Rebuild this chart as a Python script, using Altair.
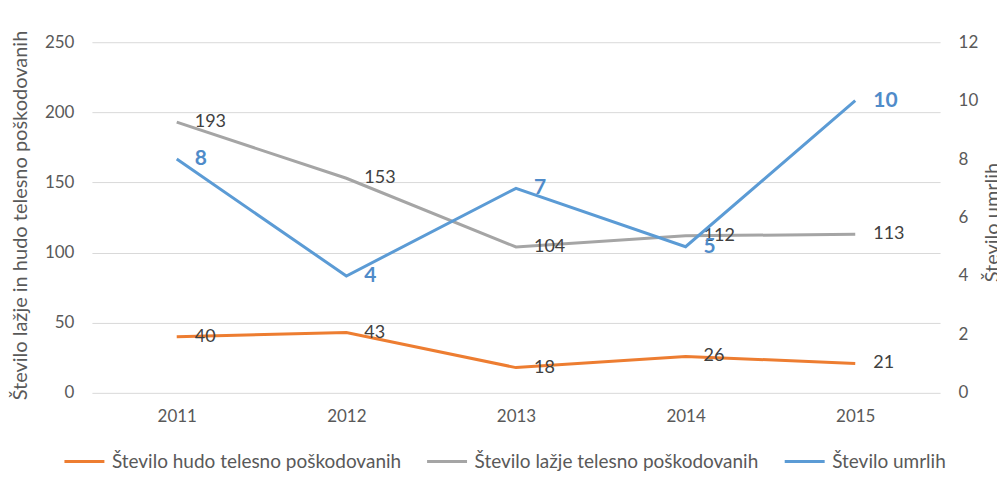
import altair as alt
import pandas as pd

years = ["2011", "2012", "2013", "2014", "2015"]
hudo = [40, 43, 18, 26, 21]
lazje = [193, 153, 104, 112, 113]
umrli = [8, 4, 7, 5, 10]

s_hudo = "Število hudo telesno poškodovanih"
s_lazje = "Število lažje telesno poškodovanih"
s_umrli = "Število umrlih"
series_names = [s_hudo, s_lazje, s_umrli]
series_colors = ["#ED7D31", "#A5A5A5", "#5B9BD5"]

rows_left = []
for y, h, l in zip(years, hudo, lazje):
    rows_left.append({"year": y, "series": s_hudo, "value": h})
    rows_left.append({"year": y, "series": s_lazje, "value": l})
left_df = pd.DataFrame(rows_left)
right_df = pd.DataFrame({"year": years, "series": s_umrli, "value": umrli})

FONT = "Lato"
LABEL_COLOR = "#595959"

x_enc = alt.X("year:O", scale=alt.Scale(type="point", padding=0.5),
              axis=alt.Axis(title=None, labelAngle=0, domain=False, ticks=False,
                            grid=False, labelPadding=16, labelFontSize=17,
                            labelColor=LABEL_COLOR, labelFont=FONT))

color_enc = alt.Color("series:N",
                      scale=alt.Scale(domain=series_names, range=series_colors),
                      sort=series_names,
                      legend=alt.Legend(title=None, orient="none", direction="horizontal",
                                        legendX=-29, legendY=398,
                                        symbolType="stroke", symbolStrokeWidth=3,
                                        symbolSize=1600, labelFontSize=19,
                                        labelFont=FONT, labelColor=LABEL_COLOR,
                                        labelOffset=6, columnPadding=19,
                                        labelLimit=400))

y_left = alt.Y("value:Q", scale=alt.Scale(domain=[0, 250]),
               axis=alt.Axis(title="Število lažje in hudo telesno poškodovanih",
                             values=[0, 50, 100, 150, 200, 250],
                             domain=False, ticks=False, labelPadding=18,
                             labelFontSize=17, labelColor=LABEL_COLOR, labelFont=FONT,
                             gridColor="#D9D9D9", gridWidth=1,
                             titleFont=FONT, titleFontSize=20, titleFontWeight="normal",
                             titleColor=LABEL_COLOR, titleX=-71, titleY=173,
                             titleAngle=-90, titleAlign="center", titleBaseline="middle"))

y_right = alt.Y("value:Q", scale=alt.Scale(domain=[0, 12]),
                axis=alt.Axis(title="Število umrlih", orient="right",
                              values=[0, 2, 4, 6, 8, 10, 12], grid=False,
                              domain=False, ticks=False, labelPadding=18,
                              labelFontSize=17, labelColor=LABEL_COLOR, labelFont=FONT,
                              titleFont=FONT, titleFontSize=20, titleFontWeight="normal",
                              titleColor=LABEL_COLOR, titleX=53, titleY=180,
                              titleAngle=-90, titleAlign="center", titleBaseline="middle"))

left_lines = alt.Chart(left_df).mark_line(strokeWidth=3).encode(
    x=x_enc, y=y_left, color=color_enc, detail="series:N")
left_text = alt.Chart(left_df).mark_text(
    align="left", baseline="middle", dx=18, fontSize=18, font=FONT, color="#404040"
).encode(x=x_enc, y=y_left, text="value:Q")

right_line = alt.Chart(right_df).mark_line(strokeWidth=3).encode(
    x=x_enc, y=y_right, color=color_enc)
right_text = alt.Chart(right_df).mark_text(
    align="left", baseline="middle", dx=18, fontSize=21, font=FONT,
    fontWeight="bold", color="#4F8BC9"
).encode(x=x_enc, y=y_right, text="value:Q")

left = alt.layer(left_lines, left_text)
right = alt.layer(right_line, right_text)

chart = alt.layer(left, right).resolve_scale(y="independent").properties(
    width=849, height=351,
    background="white",
    autosize=alt.AutoSizeParams(type="none"),
    padding={"left": 84, "top": 34, "right": 57, "bottom": 95},
).configure_view(stroke="transparent", strokeOpacity=0, strokeWidth=0)

chart.save("out.html", embed_options={"renderer": "svg", "actions": False})
